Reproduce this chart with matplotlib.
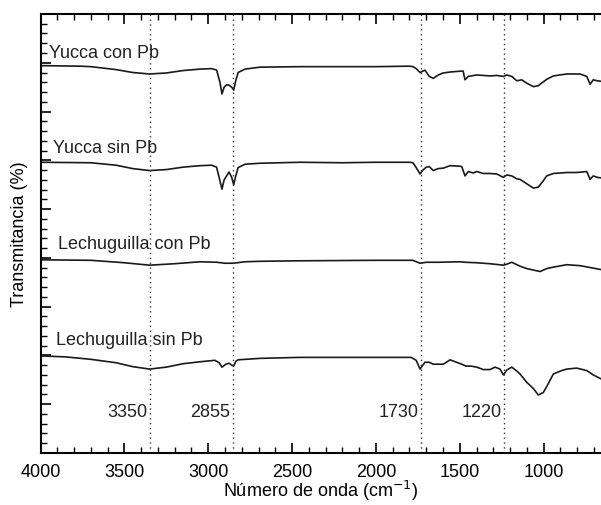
import numpy as np
import matplotlib.pyplot as plt
from matplotlib.ticker import MultipleLocator

plt.rcParams['font.family'] = ['Liberation Sans', 'DejaVu Sans']

# Espectros FTIR (número de onda, transmitancia desplazada)
wn_yucca_con = [4000, 3973, 3764, 3700, 3550, 3450, 3350, 3250, 3150, 3050, 2980, 2950, 2930, 2918,
                2905, 2890, 2876, 2860, 2848, 2838, 2822, 2780, 2690, 2453, 2200, 2000, 1800, 1779,
                1760, 1737, 1708, 1682, 1658, 1628, 1600, 1558, 1488, 1480, 1469, 1449, 1399, 1360,
                1320, 1280, 1240, 1220, 1190, 1160, 1131, 1100, 1061, 1032, 1021, 982, 942, 862, 783,
                743, 723, 704, 680, 658]
t_yucca_con = [7.94, 7.94, 7.93, 7.92, 7.86, 7.80, 7.77, 7.79, 7.84, 7.87, 7.88, 7.85, 7.60, 7.36,
               7.50, 7.55, 7.54, 7.50, 7.44, 7.60, 7.80, 7.87, 7.91, 7.92, 7.92, 7.92, 7.93, 7.92,
               7.88, 7.80, 7.85, 7.72, 7.68, 7.75, 7.79, 7.81, 7.83, 7.83, 7.65, 7.72, 7.75, 7.74,
               7.73, 7.74, 7.72, 7.75, 7.72, 7.63, 7.65, 7.58, 7.51, 7.53, 7.56, 7.66, 7.73, 7.77, 7.77,
               7.72, 7.56, 7.65, 7.63, 7.62]

wn_yucca_sin = [4000, 3700, 3550, 3450, 3350, 3250, 3150, 3050, 2980, 2950, 2935, 2918, 2905, 2876,
                2860, 2848, 2838, 2822, 2780, 2690, 2453, 2200, 2000, 1800, 1779, 1760, 1737, 1720,
                1700, 1682, 1658, 1630, 1598, 1558, 1500, 1488, 1469, 1449, 1420, 1399, 1360, 1320,
                1280, 1240, 1220, 1190, 1160, 1141, 1101, 1061, 1032, 1002, 982, 942, 862, 803, 743,
                723, 704, 680, 658]
t_yucca_sin = [5.96, 5.95, 5.90, 5.83, 5.79, 5.81, 5.86, 5.89, 5.90, 5.86, 5.65, 5.41, 5.60, 5.76,
               5.65, 5.50, 5.65, 5.85, 5.92, 5.94, 5.96, 5.95, 5.96, 5.96, 5.95, 5.85, 5.72, 5.80,
               5.86, 5.87, 5.79, 5.83, 5.84, 5.89, 5.88, 5.87, 5.68, 5.77, 5.74, 5.77, 5.73, 5.73,
               5.72, 5.65, 5.70, 5.68, 5.62, 5.61, 5.52, 5.43, 5.45, 5.58, 5.68, 5.73, 5.75, 5.75, 5.77,
               5.61, 5.68, 5.65, 5.64]

wn_lech_con = [4000, 3700, 3500, 3350, 3200, 3049, 2950, 2900, 2850, 2780, 2690, 2453, 2000, 1780,
               1737, 1700, 1628, 1500, 1469, 1400, 1320, 1240, 1220, 1190, 1141, 1100, 1061, 1021,
               982, 942, 862, 783, 720, 658]
t_lech_con = [3.96, 3.95, 3.90, 3.85, 3.88, 3.92, 3.91, 3.89, 3.89, 3.92, 3.93, 3.94, 3.95, 3.95,
              3.89, 3.91, 3.91, 3.92, 3.91, 3.90, 3.88, 3.85, 3.87, 3.91, 3.83, 3.78, 3.75, 3.72,
              3.78, 3.81, 3.86, 3.84, 3.80, 3.76]

wn_lech_sin = [4000, 3850, 3700, 3550, 3450, 3350, 3250, 3150, 3049, 2960, 2935, 2918, 2895, 2876,
               2860, 2848, 2835, 2822, 2690, 2453, 2000, 1790, 1760, 1737, 1708, 1682, 1658, 1628,
               1598, 1558, 1520, 1488, 1463, 1430, 1399, 1360, 1320, 1290, 1260, 1240, 1220, 1190,
               1160, 1141, 1101, 1061, 1032, 1002, 982, 942, 892, 862, 803, 743, 704, 658]
t_lech_sin = [1.99, 1.97, 1.92, 1.85, 1.77, 1.72, 1.76, 1.83, 1.87, 1.90, 1.85, 1.76, 1.82, 1.84,
              1.80, 1.78, 1.88, 1.91, 1.94, 1.96, 1.96, 1.96, 1.90, 1.72, 1.86, 1.86, 1.82, 1.82,
              1.82, 1.91, 1.86, 1.82, 1.78, 1.78, 1.76, 1.71, 1.71, 1.76, 1.72, 1.60, 1.70, 1.76,
              1.68, 1.62, 1.45, 1.32, 1.19, 1.24, 1.36, 1.62, 1.69, 1.72, 1.74, 1.69, 1.60, 1.52]

labels = ['Yucca con Pb', 'Yucca sin Pb', 'Lechuguilla con Pb', 'Lechuguilla sin Pb']
label_x = [3950, 3925, 3895, 3908]
label_y = [8.22, 6.27, 4.30, 2.32]

bands = [3350, 2855, 1730, 1220]
band_x = [3350, 2855, 1730, 1235]

fig = plt.figure(figsize=(6.01, 5.06), dpi=100)
ax = fig.add_axes([0.0674, 0.1028, 0.9326, 0.8676])

for wn, t in [(wn_yucca_con, t_yucca_con), (wn_yucca_sin, t_yucca_sin),
              (wn_lech_con, t_lech_con), (wn_lech_sin, t_lech_sin)]:
    ax.plot(wn, t, color='#1a1a1a', lw=1.2)

for b, bx in zip(bands, band_x):
    ax.axvline(bx, color='#333333', lw=1.0, ls=(0, (1, 2.5)))
    ax.text(bx + 15, 0.86, str(b), ha='right', va='center', fontsize=13, color='#222222')

for lab, lx, ly in zip(labels, label_x, label_y):
    ax.text(lx, ly, lab, ha='left', va='center', fontsize=13, color='#222222')

ax.set_xlim(4000, 658)
ax.set_ylim(0, 9)
ax.xaxis.set_major_locator(MultipleLocator(500))
ax.xaxis.set_minor_locator(MultipleLocator(100))
ax.yaxis.set_major_locator(MultipleLocator(1))
ax.yaxis.set_minor_locator(MultipleLocator(0.2))
ax.tick_params(axis='x', which='both', direction='in', top=True, labelsize=13, pad=7)
ax.tick_params(axis='y', which='both', direction='in', labelleft=False)
ax.tick_params(which='major', length=7, width=1.2)
ax.tick_params(which='minor', length=4, width=1.0)
ax.spines['right'].set_visible(False)
for s in ['left', 'top', 'bottom']:
    ax.spines[s].set_linewidth(1.5)

ax.set_xlabel('Número de onda (cm$^{-1}$)', fontsize=13, labelpad=-1)
ax.set_ylabel('Transmitancia (%)', fontsize=13, labelpad=9)

fig.savefig('out.png', dpi=100)
